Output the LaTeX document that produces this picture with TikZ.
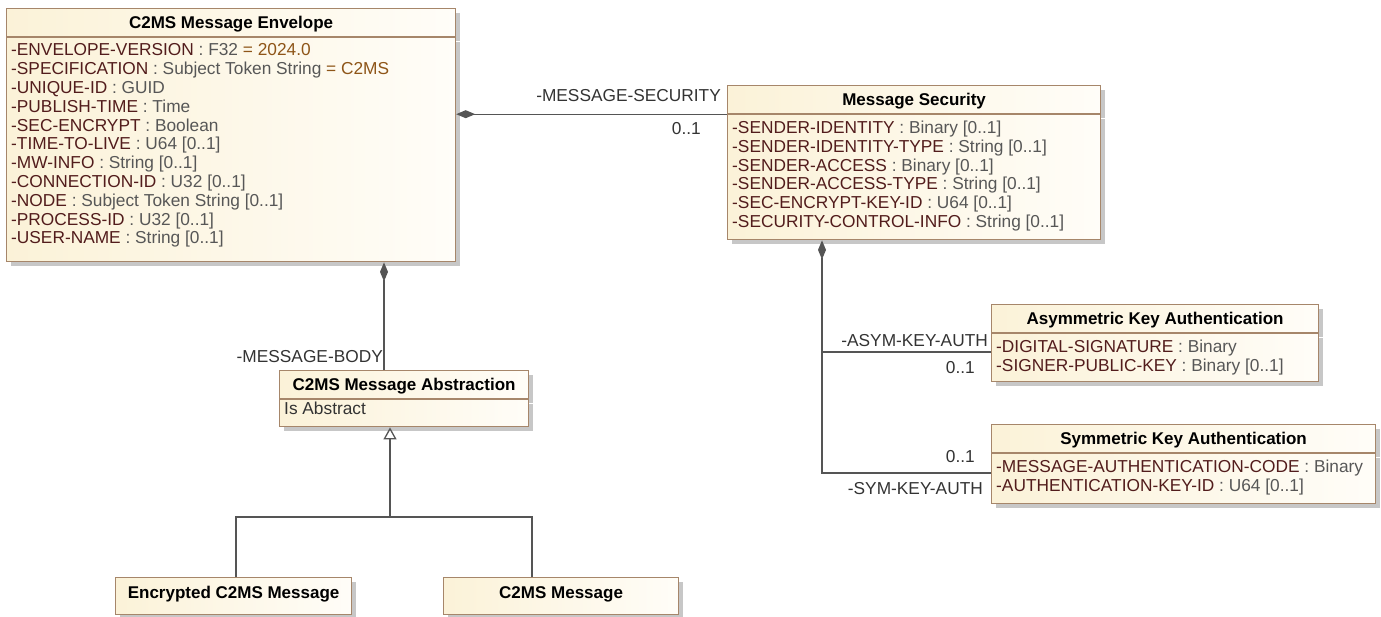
\documentclass[tikz,border=0pt]{standalone}
\usepackage{fontspec}
\setmainfont{Liberation Sans}
\usepackage{tikz}
\usetikzlibrary{arrows.meta,shadows,calc}
\definecolor{boxline}{HTML}{A6866A}
\definecolor{boxleft}{HTML}{FBF2D8}
\definecolor{boxright}{HTML}{FFFDF8}
\definecolor{attrname}{HTML}{521C1C}
\definecolor{attrtype}{HTML}{575757}
\definecolor{attrdef}{HTML}{8E5518}
\definecolor{connline}{HTML}{555555}
\definecolor{labeltext}{HTML}{333333}
\newcommand{\umlattr}[2]{\textcolor{attrname}{#1} \textcolor{attrtype}{: #2}}
\newcommand{\umldef}[1]{\textcolor{attrdef}{#1}}

\begin{document}
\begin{tikzpicture}[x=1pt, y=-1pt,
  classbox/.style={draw=boxline, line width=1.2pt, left color=boxleft, right color=boxright,
    drop shadow={shadow xshift=4pt, shadow yshift=-4pt, fill=black!40, opacity=0.55}, inner sep=0pt},
  classtitle/.style={classbox, minimum height=28pt, font=\fontsize{17}{18.8}\selectfont\bfseries,
    text height=12.2pt, text depth=0pt},
  classbody/.style={classbox},
  attrtext/.style={anchor=north west, inner sep=0pt, align=left, font=\fontsize{17.3}{18.8}\selectfont},
  rolelabel/.style={anchor=east, inner sep=0pt, text=labeltext, font=\fontsize{17.3}{18.8}\selectfont,
    text height=12.4pt, text depth=0pt},
  conn/.style={draw=connline, line width=1.3pt},
  comp/.style={conn, arrows={Diamond[length=19pt,width=8pt,fill=connline]-}},
  gen/.style={conn, arrows={-Triangle[open,length=12pt,width=13pt,fill=white]}}
]
\useasboundingbox (0,0) rectangle (1381,616);

% classes
\node[classtitle, minimum width=449pt, anchor=north west] (envT) at (6,8) {C2MS Message Envelope};
\node[classbody, minimum width=449pt, minimum height=224pt, anchor=north west] (envB) at (envT.south west) {};
\node[attrtext] (envA) at (11,43.7) {%
\umlattr{-ENVELOPE-VERSION}{F32} \umldef{= 2024.0}\\
\umlattr{-SPECIFICATION}{Subject Token String}\ \umldef{= C2MS}\\
\umlattr{-UNIQUE-ID}{GUID}\\
\umlattr{-PUBLISH-TIME}{Time}\\
\umlattr{-SEC-ENCRYPT}{Boolean}\\
\umlattr{-TIME-TO-LIVE}{U64 [0..1]}\\
\umlattr{-MW-INFO}{String [0..1]}\\
\umlattr{-CONNECTION-ID}{U32 [0..1]}\\
\umlattr{-NODE}{Subject Token String [0..1]}\\
\umlattr{-PROCESS-ID}{U32 [0..1]}\\
\umlattr{-USER-NAME}{String [0..1]}};

\node[classtitle, minimum width=373pt, anchor=north west] (msT) at (727,85) {Message Security};
\node[classbody, minimum width=373pt, minimum height=125pt, anchor=north west] (msB) at (msT.south west) {};
\node[attrtext] (msA) at (732,120.7) {%
\umlattr{-SENDER-IDENTITY}{Binary [0..1]}\\
\umlattr{-SENDER-IDENTITY-TYPE}{String [0..1]}\\
\umlattr{-SENDER-ACCESS}{Binary [0..1]}\\
\umlattr{-SENDER-ACCESS-TYPE}{String [0..1]}\\
\umlattr{-SEC-ENCRYPT-KEY-ID}{U64 [0..1]}\\
\umlattr{-SECURITY-CONTROL-INFO}{String [0..1]}};

\node[classtitle, minimum width=249pt, anchor=north west] (absT) at (279,370) {C2MS Message Abstraction};
\node[classbody, minimum width=249pt, minimum height=27pt, anchor=north west] (absB) at (absT.south west) {};
\node[attrtext, text=labeltext] (absA) at (284,401.7) {Is Abstract};

\node[classtitle, minimum width=327pt, anchor=north west] (asymT) at (991,304) {Asymmetric Key Authentication};
\node[classbody, minimum width=327pt, minimum height=48pt, anchor=north west] (asymB) at (asymT.south west) {};
\node[attrtext] (asymA) at (996,339.7) {%
\umlattr{-DIGITAL-SIGNATURE}{Binary}\\
\umlattr{-SIGNER-PUBLIC-KEY}{Binary [0..1]}};

\node[classtitle, minimum width=384pt, anchor=north west] (symT) at (991,424) {Symmetric Key Authentication};
\node[classbody, minimum width=384pt, minimum height=50pt, anchor=north west] (symB) at (symT.south west) {};
\node[attrtext] (symA) at (996,459.7) {%
\umlattr{-MESSAGE-AUTHENTICATION-CODE}{Binary}\\
\umlattr{-AUTHENTICATION-KEY-ID}{U64 [0..1]}};

\node[classtitle, minimum width=236pt, minimum height=37pt, text depth=7pt, anchor=north west] (encT) at (115,577) {Encrypted C2MS Message};
\node[classtitle, minimum width=235pt, minimum height=37pt, text depth=7pt, anchor=north west] (cmsgT) at (443,577) {C2MS Message};

% associations
\draw[comp] (envB.east |- msT.south west) -- (msT.south west);
\node[rolelabel] (msRole) at (721,95) {-MESSAGE-SECURITY};
\node[rolelabel] (msMult) at (701,128) {0..1};

\draw[comp] (384,0 |- envB.south) -- (384,0 |- absT.north);
\node[rolelabel] (bodyRole) at (383,356) {-MESSAGE-BODY};

\coordinate (asymJ) at (822,352);
\coordinate (symJ) at (822,473);
\draw[comp] (822,0 |- msB.south) -- (symJ) -- (symJ -| symB.west);
\draw[conn] (asymJ) -- (asymJ -| asymB.west);
\node[rolelabel] (asymRole) at (988,340) {-ASYM-KEY-AUTH};
\node[rolelabel] (asymMult) at (975,367) {0..1};
\node[rolelabel] (symMult) at (975,456) {0..1};
\node[rolelabel] (symRole) at (983,488) {-SYM-KEY-AUTH};

% generalization
\coordinate (genJ) at (390,517);
\draw[conn] (236,0 |- encT.north) |- (genJ) -| (532,0 |- cmsgT.north);
\draw[gen] (genJ) -- (390,0 |- absB.south);
\end{tikzpicture}
\end{document}
